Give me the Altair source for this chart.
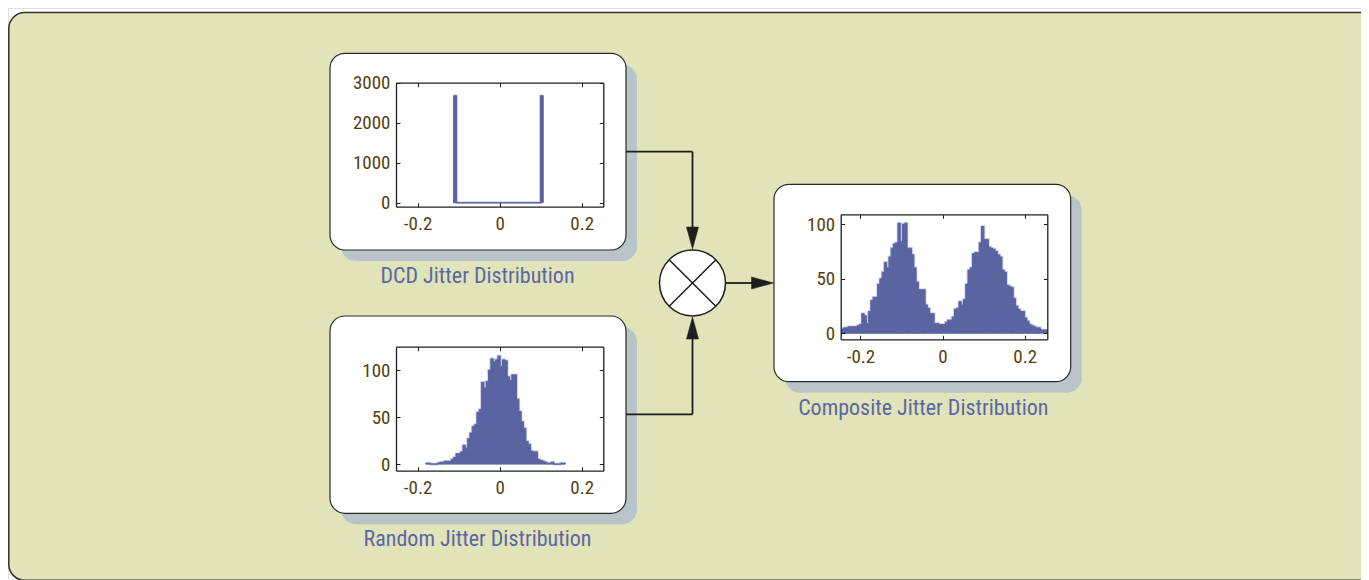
import altair as alt
import pandas as pd

# ---------------- data ----------------
x_ticks = [-0.2, 0, 0.2]

# DCD jitter: two narrow spikes at about +/-0.1 and empty bins in between
dcd_start = [-0.1125, -0.1050, 0.0996]
dcd_end = [-0.1050, 0.0996, 0.1062]
dcd_counts = [2675, 0, 2675]
dcd_yticks = [0, 1000, 2000, 3000]

# Random jitter: 60 bins from -0.18 to 0.16
rand_first_edge = -0.18
rand_bin_width = 0.34 / 60
rand_counts = [1, 1, 0, 0, 0, 1, 2, 2, 3, 3,
               3, 5, 7, 11, 11, 13, 20, 17, 27, 33,
               40, 42, 55, 58, 87, 81, 88, 100, 112, 109,
               111, 115, 104, 111, 110, 93, 89, 95, 95, 69,
               56, 45, 38, 24, 21, 14, 13, 13, 5, 4,
               3, 2, 1, 1, 2, 0, 0, 0, 1, 1]
rand_yticks = [0, 50, 100]

# Composite jitter: 91 bins from -0.246
comp_first_edge = -0.246
comp_bin_width = 0.0055
comp_counts = [4, 5, 5, 6, 6, 6, 6, 7, 8, 18,
               16, 9, 20, 30, 33, 33, 45, 50, 56, 65,
               60, 70, 78, 82, 83, 101, 84, 100, 101, 78,
               78, 72, 60, 47, 40, 40, 40, 26, 23, 18,
               18, 9, 9, 8, 8, 8, 10, 12, 12, 15,
               22, 23, 29, 26, 31, 45, 58, 60, 73, 74,
               74, 83, 98, 86, 86, 79, 78, 77, 75, 72,
               70, 58, 56, 44, 43, 42, 32, 25, 22, 20,
               20, 14, 11, 8, 7, 6, 5, 5, 3, 3, 3]
comp_yticks = [0, 50, 100]

captions = ["DCD Jitter Distribution", "Random Jitter Distribution",
            "Composite Jitter Distribution"]


def step_table(starts, ends, counts):
    # one point per bin start, plus the closing edge of the last bin
    return pd.DataFrame({"edge": list(starts) + [ends[-1]],
                         "count": list(counts) + [counts[-1]]})


def regular(first, width, counts):
    starts = [first + i * width for i in range(len(counts))]
    ends = [first + (i + 1) * width for i in range(len(counts))]
    return step_table(starts, ends, counts)


dcd_df = step_table(dcd_start, dcd_end, dcd_counts)
rand_df = regular(rand_first_edge, rand_bin_width, rand_counts)
comp_df = regular(comp_first_edge, comp_bin_width, comp_counts)

# ---------------- styling ----------------
W, H = 1353, 572
GREEN = "#e1e3b8"
SHADOW = "#b9c4c9"
BAR = "#5a64a0"
HALO = "#c4c9e6"
CAPTION = "#5b67a4"
TICKLAB = "#54400e"
INK = "#1e1e1e"
FONT = "Liberation Sans Narrow, Roboto Condensed, DejaVu Sans Condensed, Liberation Sans, sans-serif"

one = pd.DataFrame({"k": [0]})


def rect(x, y, x2, y2, **kw):
    return alt.Chart(one).mark_rect(**kw).encode(
        x=alt.value(x), y=alt.value(y), x2=alt.value(x2), y2=alt.value(y2))


def line(x, y, x2, y2, width=1.8):
    return alt.Chart(one).mark_rule(stroke=INK, strokeWidth=width).encode(
        x=alt.value(x), y=alt.value(y), x2=alt.value(x2), y2=alt.value(y2))


def symbol(x, y, shape, size, **kw):
    return alt.Chart(one).mark_point(shape=shape, size=size, filled=True,
                                     opacity=1, **kw).encode(
        x=alt.value(x), y=alt.value(y))


def caption(x, y, txt):
    return alt.Chart(one).mark_text(text=txt, font=FONT, fontSize=22,
                                    color=CAPTION, align="center",
                                    baseline="middle").encode(
        x=alt.value(x), y=alt.value(y))


def ax(**kw):
    base = dict(title=None, grid=False, zindex=1, labelFont=FONT,
                labelFontSize=19, labelColor=TICKLAB, domainColor=INK,
                domainWidth=1.3, tickColor=INK, tickWidth=1,
                labelOverlap=False, labelFlush=False)
    base.update(kw)
    return alt.Axis(**base)


def histogram(df, xdom, xr, ydom, yr, yvals, edge_w):
    xs = alt.Scale(domain=xdom, range=xr, nice=False, zero=False)
    ys = alt.Scale(domain=ydom, range=yr, nice=False, zero=False)
    base = alt.Chart(df)
    halo = base.mark_line(interpolate="step-after", stroke=HALO,
                          strokeWidth=edge_w + 1.6).encode(
        x=alt.X("edge:Q", scale=xs, axis=None),
        y=alt.Y("count:Q", scale=ys, axis=None),
    )
    bars = base.mark_area(interpolate="step-after", fill=BAR, stroke=BAR,
                          strokeWidth=edge_w, opacity=1).encode(
        x=alt.X("edge:Q", scale=xs,
                axis=ax(orient="bottom", offset=yr[0] - H, values=x_ticks,
                        format="~g",
                        labelExpr="replace(datum.label, '\u2212', '-')",
                        ticks=False, domain=True, labelPadding=8)),
        y=alt.Y("count:Q", scale=ys,
                axis=ax(orient="left", offset=-xr[0], values=yvals,
                        format="d", ticks=False, domain=True,
                        labelPadding=6)),
        y2=alt.datum(0),
    )
    # inward ticks on bottom and left edges
    t1 = base.mark_point(opacity=0).encode(
        x=alt.X("edge:Q", scale=xs,
                axis=ax(orient="top", offset=-yr[0], values=x_ticks,
                        labels=False, domain=False, ticks=True, tickSize=4)),
        y=alt.Y("count:Q", scale=ys,
                axis=ax(orient="right", offset=xr[0] - W, values=yvals,
                        labels=False, domain=False, ticks=True, tickSize=4)),
    )
    # top and right frame lines with inward ticks
    t2 = base.mark_point(opacity=0).encode(
        x=alt.X("edge:Q", scale=xs,
                axis=ax(orient="bottom", offset=yr[1] - H, values=x_ticks,
                        labels=False, domain=True, ticks=True, tickSize=4)),
        y=alt.Y("count:Q", scale=ys,
                axis=ax(orient="left", offset=-xr[1], values=yvals,
                        labels=False, domain=True, ticks=True, tickSize=4)),
    )
    return [halo, bars, t1, t2]


layers = []
# background panel
layers.append(rect(0.8, 4.5, W + 30, H + 0.3, fill=GREEN, stroke="#2e2e2e",
                   strokeWidth=1.5, cornerRadius=16))
# shadows
for (x, y, x2, y2) in [(333, 56.3, 629, 253), (333, 319, 629, 516.3),
                       (777, 187.3, 1073.7, 384.7)]:
    layers.append(rect(x, y, x2, y2, fill=SHADOW, cornerRadius=15))
# white boxes
for (x, y, x2, y2) in [(322, 45.3, 618, 242), (322, 308, 618, 505.3),
                       (766, 176.3, 1062.7, 373.7)]:
    layers.append(rect(x, y, x2, y2, fill="white", stroke="#2a2a2a",
                       strokeWidth=1.2, cornerRadius=15))

# histograms
layers += histogram(dcd_df, [-0.2525, 0.2525], [388, 595.3], [-100, 3000],
                    [198.7, 74.7], dcd_yticks, 1.0)
layers += histogram(rand_df, [-0.2525, 0.2525], [388, 595.3], [-7, 125],
                    [462.7, 338.7], rand_yticks, 1.0)
layers += histogram(comp_df, [-0.248, 0.255], [832.7, 1039.3], [-5.5, 109.2],
                    [331.3, 206.3], comp_yticks, 1.0)

# connectors and multiplier
cx, cy, r = 684.5, 275, 33
layers.append(line(618, 143.7, cx, 143.7))
layers.append(line(cx, 143.7, cx, 224))
layers.append(line(618, 406.3, cx, 406.3))
layers.append(line(cx, 406.3, cx, 318))
layers.append(line(cx + r, cy, 748, cy))
layers.append(symbol(cx, 230, "M-0.55,-1L0.55,-1L0,1Z", 484, fill=INK,
                     stroke=INK, strokeWidth=0.5))
layers.append(symbol(cx, 320, "M-0.55,1L0.55,1L0,-1Z", 484, fill=INK,
                     stroke=INK, strokeWidth=0.5))
layers.append(symbol(754.5, cy, "M-1,-0.55L-1,0.55L1,0Z", 484, fill=INK,
                     stroke=INK, strokeWidth=0.5))
layers.append(symbol(cx, cy, "circle", (2 * r) ** 2, fill="white",
                     stroke=INK, strokeWidth=1.5))
d = r * 0.7071
layers.append(line(cx - d, cy - d, cx + d, cy + d, 1.5))
layers.append(line(cx - d, cy + d, cx + d, cy - d, 1.5))

# captions
layers.append(caption(469.5, 268, captions[0]))
layers.append(caption(469.5, 531.3, captions[1]))
layers.append(caption(915.3, 400.3, captions[2]))

chart = alt.layer(*layers).resolve_scale(
    x="independent", y="independent"
).properties(
    width=W, height=H, padding=0,
    autosize=alt.AutoSizeParams(type="none"),
).configure_view(stroke=None).configure(background="white")

chart.save("out.html", embed_options={"renderer": "svg", "actions": False})
